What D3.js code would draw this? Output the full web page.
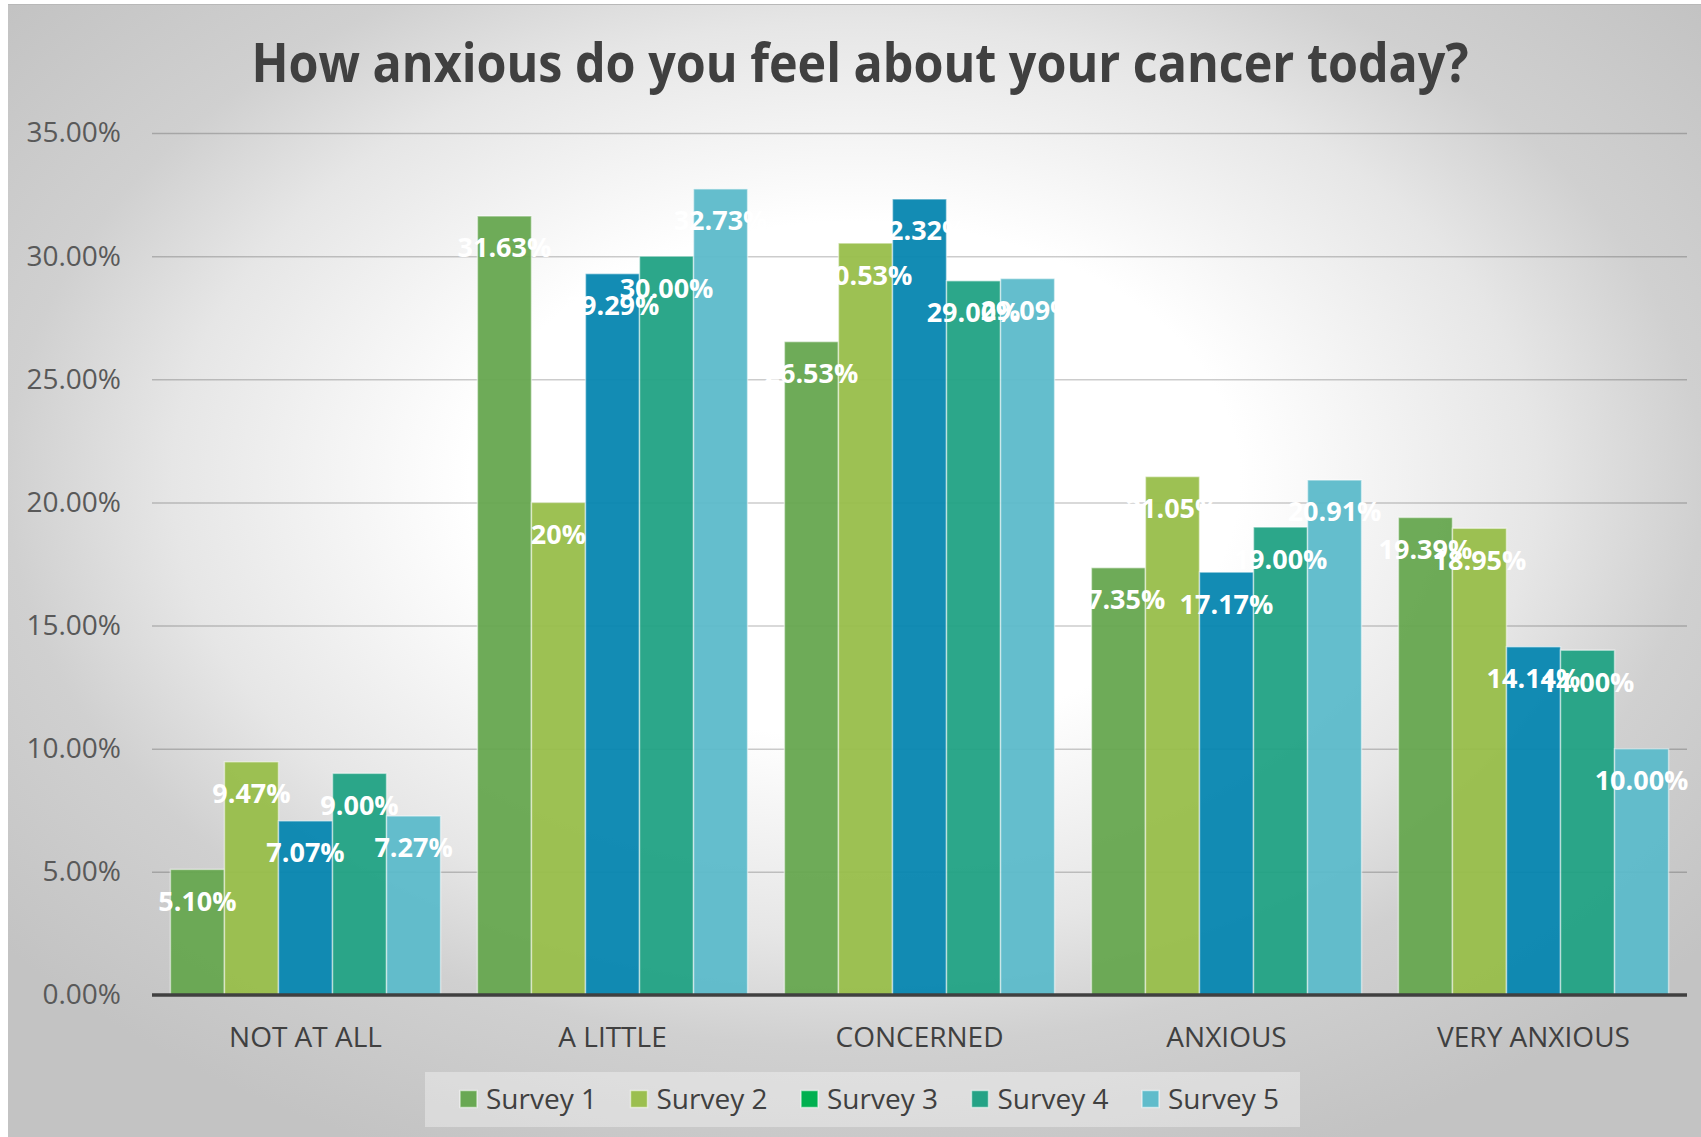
<html>
<head>
  <script src="https://d3js.org/d3.v7.min.js"></script>
  <style>
    body { margin: 0; background: #fff; }
    svg { display: block; font-family: "Open Sans", sans-serif; }
  </style>
</head>
<body>
  <svg id="chart"></svg>

  <script>
    const categories = ['NOT AT ALL', 'A LITTLE', 'CONCERNED', 'ANXIOUS', 'VERY ANXIOUS'];
    const seriesNames = ['Survey 1', 'Survey 2', 'Survey 3', 'Survey 4', 'Survey 5'];
    const survey1 = [5.10, 31.63, 26.53, 17.35, 19.39];
    const survey2 = [9.47, 20.00, 30.53, 21.05, 18.95];
    const survey3 = [7.07, 29.29, 32.32, 17.17, 14.14];
    const survey4 = [9.00, 30.00, 29.00, 19.00, 14.00];
    const survey5 = [7.27, 32.73, 29.09, 20.91, 10.00];
    const yTicks = [0, 5, 10, 15, 20, 25, 30, 35];
    // the one label Excel shows without decimals
    const shortLabels = [{series: 'Survey 2', category: 'A LITTLE'}];

    const barColors = ['#66a74f', '#98be4a', '#0686b0', '#21a284', '#5cbbca'];
    const legendColors = ['#69a853', '#9bbf4e', '#00b050', '#24a386', '#60bccb'];

    const width = 1701, height = 1137;
    const plot = {left: 152, right: 1687, top: 133, bottom: 995};

    const seriesValues = [survey1, survey2, survey3, survey4, survey5];
    const rows = [];
    seriesNames.forEach((s, si) => {
      categories.forEach((c, ci) => {
        rows.push({series: s, category: c, value: seriesValues[si][ci]});
      });
    });

    const svg = d3.select('#chart').attr('width', width).attr('height', height);

    // background: elliptical radial gradient, white in the middle
    const defs = svg.append('defs');
    const grad = defs.append('radialGradient')
      .attr('id', 'bg')
      .attr('cx', 0.5).attr('cy', 0.42).attr('r', 0.65);
    [[0, '#ffffff'], [0.35, '#ffffff'], [0.62, '#e6e6e6'], [0.77, '#d0d0d0'], [1, '#c3c3c3']]
      .forEach(([o, c]) => grad.append('stop').attr('offset', o).attr('stop-color', c));

    svg.append('rect')
      .attr('x', 8).attr('y', 4)
      .attr('width', width - 8).attr('height', height - 4)
      .attr('fill', 'url(#bg)');
    svg.append('line')
      .attr('x1', 8).attr('x2', width).attr('y1', 4.5).attr('y2', 4.5)
      .attr('stroke', '#b8b8b8').attr('stroke-width', 1);

    const x0 = d3.scaleBand()
      .domain(categories)
      .range([plot.left, plot.right])
      .paddingInner(0.12)
      .paddingOuter(0.06);

    const x1 = d3.scaleBand()
      .domain(seriesNames)
      .range([0, x0.bandwidth()]);

    const y = d3.scaleLinear()
      .domain([0, 35])
      .range([plot.bottom, plot.top]);

    const color = d3.scaleOrdinal(seriesNames, barColors);
    const legendColor = d3.scaleOrdinal(seriesNames, legendColors);

    // gridlines
    svg.append('g')
      .attr('transform', `translate(${plot.left},0)`)
      .call(d3.axisLeft(y).tickValues(yTicks.slice(1)).tickSize(-(plot.right - plot.left)).tickFormat(''))
      .call(g => g.select('.domain').remove())
      .call(g => g.selectAll('line').attr('stroke', 'rgba(0,0,0,0.2)').attr('stroke-width', 1.5));

    // y axis labels
    svg.append('g')
      .attr('transform', `translate(121,0)`)
      .call(d3.axisLeft(y).tickValues(yTicks).tickSize(0).tickPadding(0).tickFormat(d => d3.format('.2f')(d) + '%'))
      .call(g => g.select('.domain').remove())
      .call(g => g.selectAll('text')
        .attr('font-family', '"Open Sans", sans-serif')
        .attr('font-size', 28)
        .attr('fill', '#595959'));

    // bars
    svg.append('g')
      .selectAll('rect')
      .data(rows)
      .join('rect')
      .attr('x', d => x0(d.category) + x1(d.series))
      .attr('y', d => y(d.value))
      .attr('width', x1.bandwidth())
      .attr('height', d => y(0) - y(d.value))
      .attr('fill', d => color(d.series))
      .attr('fill-opacity', 0.95)
      .attr('stroke', 'rgba(255,255,255,0.5)')
      .attr('stroke-width', 1.5);

    // baseline
    svg.append('line')
      .attr('x1', plot.left).attr('x2', plot.right)
      .attr('y1', y(0)).attr('y2', y(0))
      .attr('stroke', '#404040').attr('stroke-width', 3.5);

    // x axis labels
    svg.append('g')
      .attr('transform', `translate(0,${y(0)})`)
      .call(d3.axisBottom(x0).tickSize(0).tickPadding(0))
      .call(g => g.select('.domain').remove())
      .call(g => g.selectAll('text')
        .attr('y', 42)
        .attr('dy', '0.35em')
        .attr('font-family', '"Open Sans", sans-serif')
        .attr('font-size', 28)
        .attr('fill', '#404040'));

    // data labels
    const isShort = d => shortLabels.some(s => s.series === d.series && s.category === d.category);
    svg.append('g')
      .selectAll('text')
      .data(rows)
      .join('text')
      .attr('x', d => x0(d.category) + x1(d.series) + x1.bandwidth() / 2)
      .attr('y', d => y(d.value) + 32)
      .attr('dy', '0.35em')
      .attr('text-anchor', 'middle')
      .attr('font-size', 27)
      .attr('font-weight', 'bold')
      .attr('fill', '#ffffff')
      .text(d => isShort(d) ? d3.format('.0f')(d.value) + '%' : d3.format('.2f')(d.value) + '%');

    // title
    const title = svg.append('text')
      .attr('x', 860)
      .attr('y', 82)
      .attr('text-anchor', 'middle')
      .attr('font-size', 54)
      .attr('font-weight', 'bold')
      .attr('fill', '#404040')
      .text('How anxious do you feel about your cancer today?');
    const tw = title.node().getComputedTextLength();
    if (Math.abs(tw - 1217) > 10) {
      title.attr('textLength', 1217).attr('lengthAdjust', 'spacingAndGlyphs');
    }

    // legend
    const legend = svg.append('g');
    legend.append('rect')
      .attr('x', 425).attr('y', 1072)
      .attr('width', 875).attr('height', 55)
      .attr('fill', 'rgba(255,255,255,0.35)');

    const legendX = d3.scalePoint()
      .domain(seriesNames)
      .range([460, 1142]);

    const item = legend.selectAll('g')
      .data(seriesNames)
      .join('g')
      .attr('transform', d => `translate(${legendX(d)},1099)`);
    item.append('rect')
      .attr('x', 0).attr('y', -8.5)
      .attr('width', 17).attr('height', 17)
      .attr('fill', d => legendColor(d))
      .attr('stroke', 'rgba(255,255,255,0.55)')
      .attr('stroke-width', 1.5);
    item.append('text')
      .attr('x', 26)
      .attr('dy', '0.35em')
      .attr('font-size', 28)
      .attr('fill', '#404040')
      .text(d => d);
  </script>
</body>
</html>
